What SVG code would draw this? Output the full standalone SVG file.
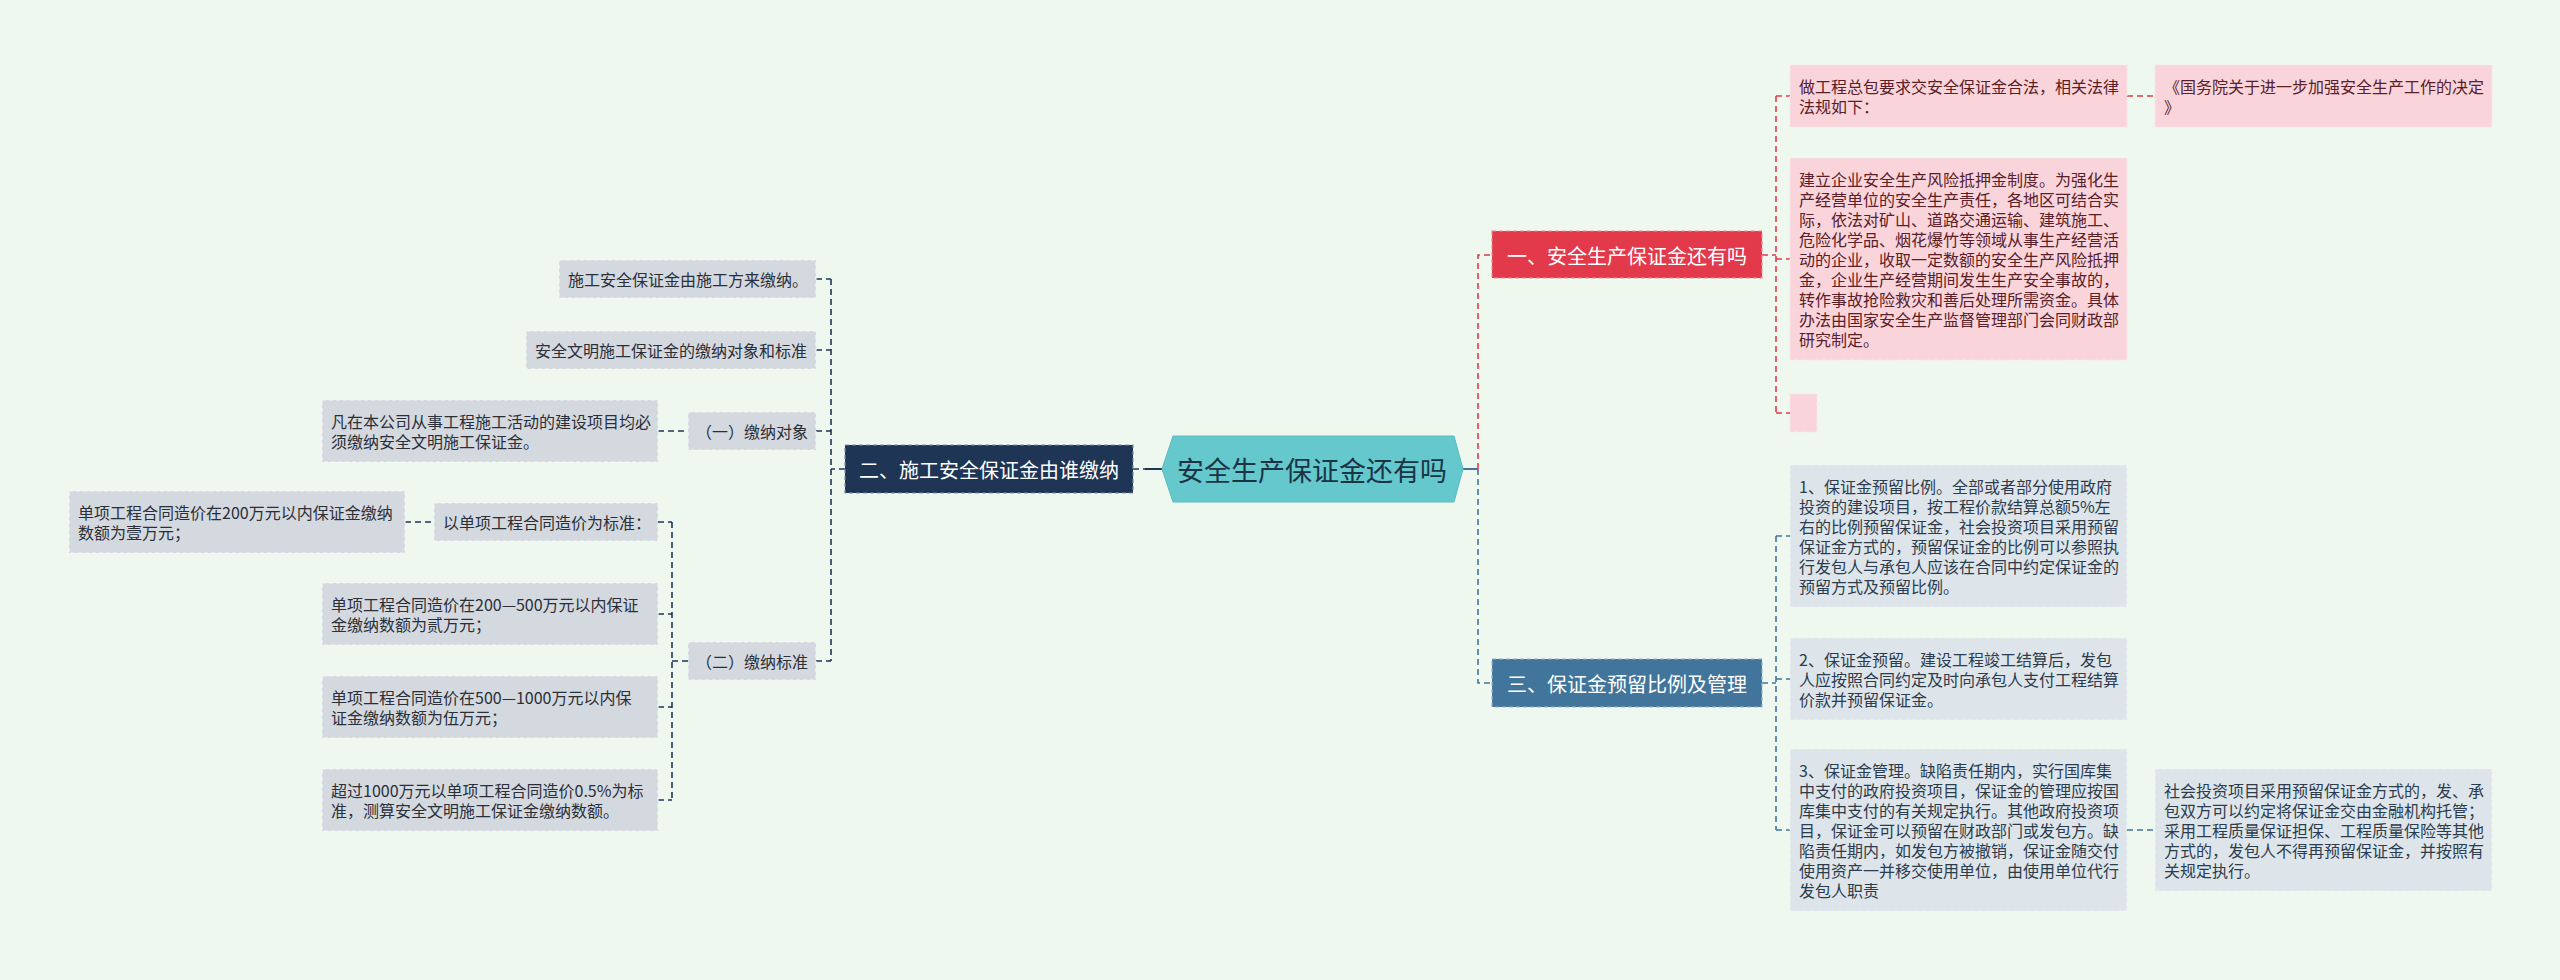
<svg xmlns="http://www.w3.org/2000/svg" width="2560" height="980" viewBox="0 0 2560 980">
<style>
text{font-family:"Noto Sans CJK SC","Noto Sans",sans-serif;dominant-baseline:central}
.t16{font-size:16px}
.lg rect{fill:#d4d9e0;stroke:#f4f6f8;stroke-width:1.2;stroke-dasharray:4 3}
.lg text{fill:#2b2f38}
.pk rect{fill:#f9d5db;stroke:#fbe6ea;stroke-width:1.2;stroke-dasharray:4 3}
.pk text{fill:#5a2028}
.bl rect{fill:#dde5eb;stroke:#eef3f6;stroke-width:1.2;stroke-dasharray:4 3}
.bl text{fill:#2c3c4c}
.l1 text{fill:#ffffff;font-size:20px;text-anchor:middle}
.cn{fill:none;stroke-width:1.6;stroke-dasharray:6 4}
.nv{stroke:#1f3556}
.rd{stroke:#e23a4b}
.bu{stroke:#42759b}
</style>
<rect x="0" y="0" width="2560" height="980" fill="#eff8ee"/>

<g id="connectors">
  <!-- center to left -->
  <line x1="1133" y1="469" x2="1145" y2="469" class="cn nv"/>
  <line x1="1145" y1="469" x2="1162" y2="469" stroke="#1f3556" stroke-width="2"/>
  <!-- center to right -->
  <line x1="1463" y1="469" x2="1478" y2="469" stroke="#42759b" stroke-width="2"/>
  <path d="M1478 469 V255 H1492" class="cn rd"/>
  <path d="M1478 469 V683 H1492" class="cn bu"/>
  <!-- node 一 children -->
  <path d="M1762 255 H1776" class="cn rd"/>
  <path d="M1776 96 V413" class="cn rd"/>
  <path d="M1776 96 H1790 M1776 259 H1790 M1776 413 H1790" class="cn rd"/>
  <path d="M2127 96 H2155" class="cn rd"/>
  <!-- node 三 children -->
  <path d="M1762 683 H1776" class="cn bu"/>
  <path d="M1776 536 V830" class="cn bu"/>
  <path d="M1776 536 H1790 M1776 679 H1790 M1776 830 H1790" class="cn bu"/>
  <path d="M2127 830 H2155" class="cn bu"/>
  <!-- node 二 children -->
  <path d="M845 469 H831" class="cn nv"/>
  <path d="M831 279 V661" class="cn nv"/>
  <path d="M816 279 H831 M816 350 H831 M816 431 H831 M816 661 H831" class="cn nv"/>
  <path d="M658 431 H688" class="cn nv"/>
  <path d="M672 522 V800" class="cn nv"/>
  <path d="M688 661 H672 M658 522 H672 M658 614 H672 M658 707 H672 M658 800 H672" class="cn nv"/>
  <path d="M405 522 H434" class="cn nv"/>
</g>

<g id="center">
  <polygon points="1162,469 1173,436 1454,436 1463,469 1454,502 1173,502" fill="#64c8cc" stroke="#58bcc0" stroke-width="1"/>
  <text x="1312" y="469" font-size="27" fill="#1b3445" text-anchor="middle">安全生产保证金还有吗</text>
</g>

<g id="node-er" class="l1">
  <rect x="845" y="445" width="288" height="48" fill="#1f3556" stroke="#7d8ea8" stroke-width="1.2" stroke-dasharray="4 3"/>
  <text x="989" y="469">二、施工安全保证金由谁缴纳</text>
</g>
<g id="node-yi" class="l1">
  <rect x="1492" y="231" width="270" height="47" fill="#e23a4b" stroke="#f28893" stroke-width="1.2" stroke-dasharray="4 3"/>
  <text x="1627" y="255">一、安全生产保证金还有吗</text>
</g>
<g id="node-san" class="l1">
  <rect x="1492" y="659" width="270" height="48" fill="#42759b" stroke="#9ab4c8" stroke-width="1.2" stroke-dasharray="4 3"/>
  <text x="1627" y="683">三、保证金预留比例及管理</text>
</g>

<!-- node 一 leaves -->
<g id="r1" class="pk t16">
  <rect x="1790" y="65" width="337" height="62"/>
  <text x="1799" y="86">做工程总包要求交安全保证金合法，相关法律</text>
  <text x="1799" y="106">法规如下：</text>
</g>
<g id="r1b" class="pk t16">
  <rect x="2155" y="65" width="337" height="62"/>
  <text x="2164" y="86">《国务院关于进一步加强安全生产工作的决定</text>
  <text x="2164" y="106">》</text>
</g>
<g id="r2" class="pk t16">
  <rect x="1790" y="158" width="337" height="202"/>
  <text x="1799" y="179">建立企业安全生产风险抵押金制度。为强化生</text>
  <text x="1799" y="199">产经营单位的安全生产责任，各地区可结合实</text>
  <text x="1799" y="219">际，依法对矿山、道路交通运输、建筑施工、</text>
  <text x="1799" y="239">危险化学品、烟花爆竹等领域从事生产经营活</text>
  <text x="1799" y="259">动的企业，收取一定数额的安全生产风险抵押</text>
  <text x="1799" y="279">金，企业生产经营期间发生生产安全事故的，</text>
  <text x="1799" y="299">转作事故抢险救灾和善后处理所需资金。具体</text>
  <text x="1799" y="319">办法由国家安全生产监督管理部门会同财政部</text>
  <text x="1799" y="339">研究制定。</text>
</g>
<g id="r3" class="pk">
  <rect x="1790" y="394" width="27" height="38"/>
</g>

<!-- node 三 leaves -->
<g id="b1" class="bl t16">
  <rect x="1790" y="465" width="337" height="142"/>
  <text x="1799" y="486">1、保证金预留比例。全部或者部分使用政府</text>
  <text x="1799" y="506">投资的建设项目，按工程价款结算总额5%左</text>
  <text x="1799" y="526">右的比例预留保证金，社会投资项目采用预留</text>
  <text x="1799" y="546">保证金方式的，预留保证金的比例可以参照执</text>
  <text x="1799" y="566">行发包人与承包人应该在合同中约定保证金的</text>
  <text x="1799" y="586">预留方式及预留比例。</text>
</g>
<g id="b2" class="bl t16">
  <rect x="1790" y="638" width="337" height="82"/>
  <text x="1799" y="659">2、保证金预留。建设工程竣工结算后，发包</text>
  <text x="1799" y="679">人应按照合同约定及时向承包人支付工程结算</text>
  <text x="1799" y="699">价款并预留保证金。</text>
</g>
<g id="b3" class="bl t16">
  <rect x="1790" y="749" width="337" height="162"/>
  <text x="1799" y="770">3、保证金管理。缺陷责任期内，实行国库集</text>
  <text x="1799" y="790">中支付的政府投资项目，保证金的管理应按国</text>
  <text x="1799" y="810">库集中支付的有关规定执行。其他政府投资项</text>
  <text x="1799" y="830">目，保证金可以预留在财政部门或发包方。缺</text>
  <text x="1799" y="850">陷责任期内，如发包方被撤销，保证金随交付</text>
  <text x="1799" y="870">使用资产一并移交使用单位，由使用单位代行</text>
  <text x="1799" y="890">发包人职责</text>
</g>
<g id="b3b" class="bl t16">
  <rect x="2155" y="769" width="337" height="122"/>
  <text x="2164" y="790">社会投资项目采用预留保证金方式的，发、承</text>
  <text x="2164" y="810">包双方可以约定将保证金交由金融机构托管；</text>
  <text x="2164" y="830">采用工程质量保证担保、工程质量保险等其他</text>
  <text x="2164" y="850">方式的，发包人不得再预留保证金，并按照有</text>
  <text x="2164" y="870">关规定执行。</text>
</g>

<!-- node 二 leaves -->
<g id="l1" class="lg t16">
  <rect x="559" y="260" width="257" height="38"/>
  <text x="568" y="279">施工安全保证金由施工方来缴纳。</text>
</g>
<g id="l2" class="lg t16">
  <rect x="526" y="331" width="290" height="38"/>
  <text x="535" y="350">安全文明施工保证金的缴纳对象和标准</text>
</g>
<g id="l3" class="lg t16">
  <rect x="688" y="412" width="128" height="38"/>
  <text x="696" y="431">（一）缴纳对象</text>
</g>
<g id="l3a" class="lg t16">
  <rect x="322" y="400" width="336" height="62"/>
  <text x="331" y="421">凡在本公司从事工程施工活动的建设项目均必</text>
  <text x="331" y="441">须缴纳安全文明施工保证金。</text>
</g>
<g id="l4" class="lg t16">
  <rect x="688" y="642" width="128" height="38"/>
  <text x="696" y="661">（二）缴纳标准</text>
</g>
<g id="l4a" class="lg t16">
  <rect x="434" y="503" width="224" height="38"/>
  <text x="443" y="522">以单项工程合同造价为标准：</text>
</g>
<g id="l4a1" class="lg t16">
  <rect x="69" y="491" width="336" height="62"/>
  <text x="78" y="512">单项工程合同造价在200万元以内保证金缴纳</text>
  <text x="78" y="532">数额为壹万元；</text>
</g>
<g id="l4b" class="lg t16">
  <rect x="322" y="583" width="336" height="62"/>
  <text x="331" y="604">单项工程合同造价在200—500万元以内保证</text>
  <text x="331" y="624">金缴纳数额为贰万元；</text>
</g>
<g id="l4c" class="lg t16">
  <rect x="322" y="676" width="336" height="62"/>
  <text x="331" y="697">单项工程合同造价在500—1000万元以内保</text>
  <text x="331" y="717">证金缴纳数额为伍万元；</text>
</g>
<g id="l4d" class="lg t16">
  <rect x="322" y="769" width="336" height="62"/>
  <text x="331" y="790">超过1000万元以单项工程合同造价0.5%为标</text>
  <text x="331" y="810">准，测算安全文明施工保证金缴纳数额。</text>
</g>
</svg>
